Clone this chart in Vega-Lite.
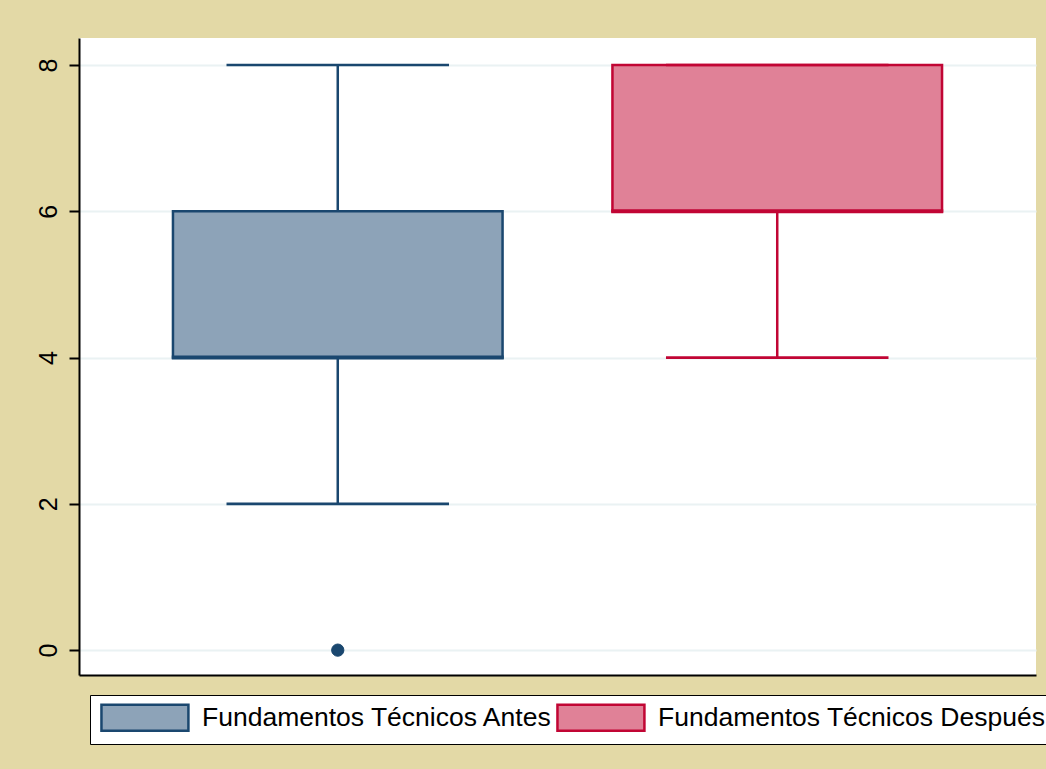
{
  "$schema": "https://vega.github.io/schema/vega-lite/v6.json",
  "autosize": {"type": "none"},
  "width": 957,
  "height": 637,
  "padding": {"left": 79, "top": 38, "right": 10, "bottom": 94},
  "background": "#E3D9A6",
  "config": {
    "font": "Liberation Sans",
    "view": {"fill": "white", "stroke": null}
  },
  "datasets": {
    "box": [
      {"group": "Fundamentos Técnicos Antes", "lower": 2, "q1": 4, "median": 4, "q3": 6, "upper": 8},
      {"group": "Fundamentos Técnicos Después", "lower": 4, "q1": 6, "median": 6, "q3": 8, "upper": 8}
    ],
    "outliers": [
      {"group": "Fundamentos Técnicos Antes", "value": 0}
    ]
  },
  "encoding": {
    "x": {
      "field": "group", "type": "nominal", "sort": null,
      "scale": {"paddingInner": 0.25, "paddingOuter": 0.2138},
      "axis": {"title": null, "labels": false, "ticks": false, "domain": true, "domainColor": "black", "domainWidth": 2, "grid": false}
    },
    "stroke": {
      "field": "group", "type": "nominal",
      "scale": {"domain": ["Fundamentos Técnicos Antes", "Fundamentos Técnicos Después"], "range": ["#1A476F", "#C10534"]},
      "legend": {
        "title": null, "orient": "none", "legendX": 11, "legendY": 657,
        "direction": "horizontal",
        "fillColor": "white", "strokeColor": "black",
        "padding": 8,
        "symbolType": "M-0.85,-1H5.84V1H-0.85Z",
        "symbolSize": 676, "symbolStrokeWidth": 2.5, "symbolOpacity": 1,
        "labelFontSize": 26.5, "labelColor": "black", "labelLimit": 600,
        "labelOffset": 75, "columnPadding": -1
      }
    }
  },
  "layer": [
    {
      "data": {"name": "box"},
      "mark": {"type": "rule", "strokeWidth": 2.5},
      "encoding": {
        "y": {
          "field": "lower", "type": "quantitative",
          "scale": {"domain": [-0.34, 8.37], "nice": false, "zero": false},
          "axis": {
            "title": null, "values": [0, 2, 4, 6, 8], "format": "d", "labelAngle": -90,
            "labelFontSize": 25, "labelColor": "black", "labelPadding": 8,
            "tickSize": 10, "tickColor": "black", "tickWidth": 2,
            "domainColor": "black", "domainWidth": 2,
            "gridColor": "#EAF2F3", "gridWidth": 2
          }
        },
        "y2": {"field": "upper"}
      }
    },
    {
      "data": {"name": "box"},
      "mark": {"type": "rect", "strokeWidth": 2.5},
      "encoding": {
        "y": {"field": "q1", "type": "quantitative"},
        "y2": {"field": "q3"},
        "fill": {
          "field": "group", "type": "nominal",
          "scale": {"domain": ["Fundamentos Técnicos Antes", "Fundamentos Técnicos Después"], "range": ["#8DA3B8", "#E08197"]},
          "legend": {
            "title": null, "orient": "none", "legendX": 11, "legendY": 657,
            "direction": "horizontal",
            "fillColor": "white", "strokeColor": "black",
            "padding": 8,
            "symbolType": "M-0.85,-1H5.84V1H-0.85Z",
            "symbolSize": 676, "symbolStrokeWidth": 2.5, "symbolOpacity": 1,
            "labelFontSize": 26.5, "labelColor": "black", "labelLimit": 600,
            "labelOffset": 75, "columnPadding": -1
          }
        }
      }
    },
    {
      "data": {"name": "box"},
      "mark": {"type": "tick", "filled": false, "size": 329, "thickness": 1, "strokeWidth": 3, "orient": "horizontal", "opacity": 1},
      "encoding": {
        "y": {"field": "median", "type": "quantitative"}
      }
    },
    {
      "data": {"name": "box"},
      "mark": {"type": "tick", "filled": false, "size": 220, "thickness": 0.1, "strokeWidth": 2.5, "orient": "horizontal", "opacity": 1},
      "encoding": {
        "y": {"field": "lower", "type": "quantitative"}
      }
    },
    {
      "data": {"name": "box"},
      "mark": {"type": "tick", "filled": false, "size": 220, "thickness": 0.1, "strokeWidth": 2.5, "orient": "horizontal", "opacity": 1},
      "encoding": {
        "y": {"field": "upper", "type": "quantitative"}
      }
    },
    {
      "data": {"name": "outliers"},
      "mark": {"type": "point", "filled": true, "fill": "#1A476F", "shape": "circle", "size": 150, "strokeWidth": 1, "opacity": 1},
      "encoding": {
        "y": {"field": "value", "type": "quantitative"}
      }
    }
  ]
}
